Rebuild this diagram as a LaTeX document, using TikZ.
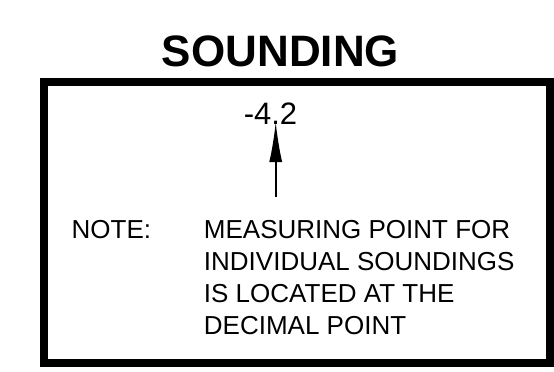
\documentclass[tikz,border=0pt]{standalone}
\usepackage{fontspec}
\setmainfont{Liberation Sans}
\usetikzlibrary{positioning,arrows.meta}

\begin{document}
\begin{tikzpicture}[line width=1.6pt, >={Latex[length=40pt,width=13pt]}]

	% Stili per titolo, cornice e testi
	\tikzset{
		titlelabel/.style={
			anchor=base,
			inner sep=0pt,
			font=\bfseries\fontsize{44}{52}\selectfont
		},
		framebox/.style={
			line width=8pt
		},
		depthlabel/.style={
			anchor=base west,
			inner sep=0pt,
			font=\fontsize{31}{37}\selectfont
		},
		notelabel/.style={
			anchor=base west,
			inner sep=0pt,
			font=\fontsize{26}{32}\selectfont
		},
		notetext/.style={
			anchor=base west,
			inner sep=0pt,
			align=left,
			font=\fontsize{26}{32}\selectfont
		}
	}

	\useasboundingbox (0,0) rectangle (19.47,13.04);

	% Titolo
	\node[titlelabel] (title) at (9.86, 10.72) {SOUNDING};

	% Cornice
	\draw[framebox] (1.56, 0.28) rectangle (19.33, 10.16);

	% Quota e freccia verso il punto decimale
	\node[depthlabel] (depth) at (8.54, 8.68) {-4.2};
	\coordinate (point) at (9.69, 8.75);
	\coordinate (tail)  at (9.69, 6.12);
	\draw[->] (tail) -- (point);

	% Nota (la base del testo e' quella dell'ultima riga)
	\node[notelabel] (note) at (2.49, 4.66) {NOTE:};
	\node[notetext]  (text) at (7.14, 1.29) {MEASURING POINT FOR\\INDIVIDUAL SOUNDINGS\\IS LOCATED AT THE\\DECIMAL POINT};

\end{tikzpicture}
\end{document}
